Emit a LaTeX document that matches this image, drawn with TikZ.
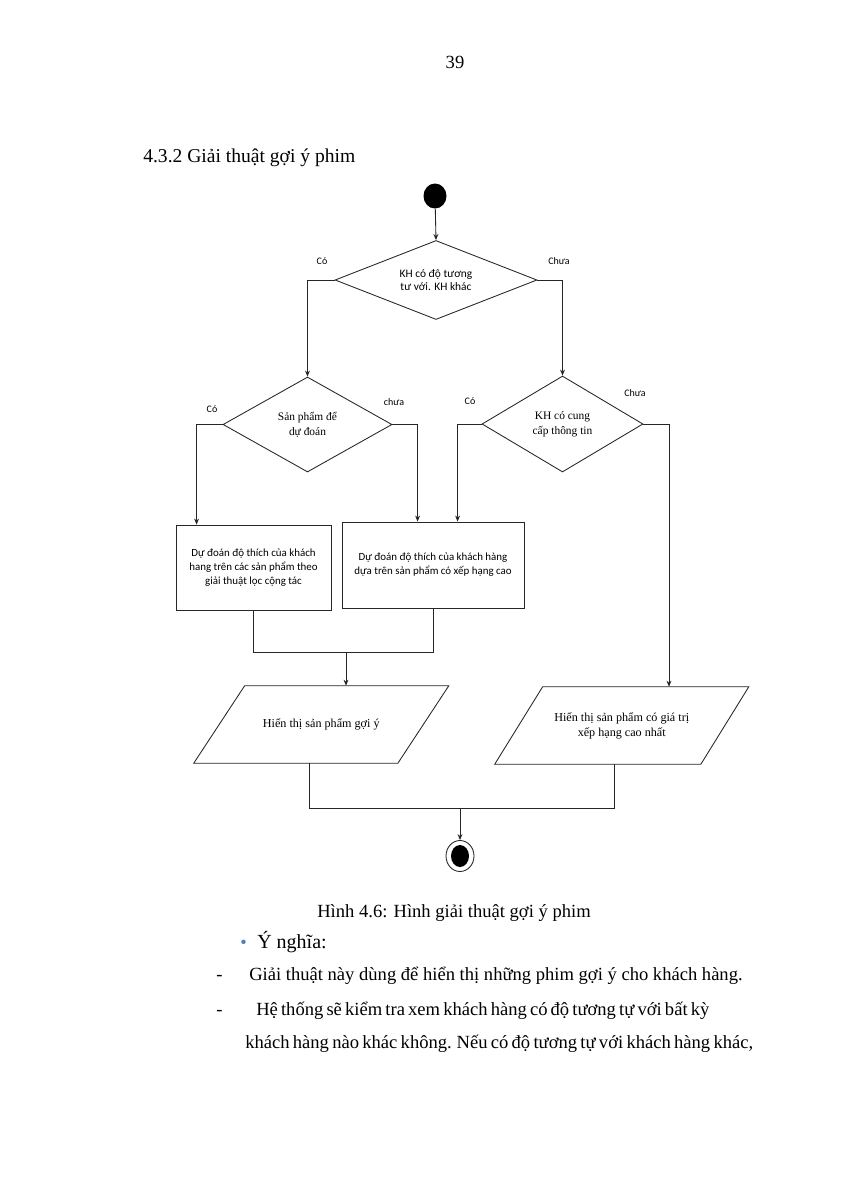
\documentclass[tikz,border=0pt]{standalone}
\usepackage{fontspec}
\setmainfont{Liberation Serif}
\newfontfamily\calfont{Carlito}
\usetikzlibrary{shapes.geometric,arrows.meta,calc}
\definecolor{bulletblue}{HTML}{4F81BD}
\begin{document}
\begin{tikzpicture}[x=0.7pt,y=-0.7pt,
  line/.style={draw=black!85,line width=0.6pt},
  arr/.style={line,-{Stealth[length=4.2pt,width=3.4pt]}},
  dec/.style={diamond,line,inner sep=0pt,align=center},
  box/.style={rectangle,line,inner sep=0pt,align=center,font=\calfont\fontsize{7.65}{9.8}\selectfont},
  io/.style={rectangle,inner sep=0pt,align=center,font=\fontsize{8.5}{10.5}\selectfont},
  lab/.style={font=\calfont\fontsize{7}{8}\selectfont,inner sep=0pt},
  body/.style={font=\fontsize{13}{15}\selectfont,inner sep=0pt,anchor=base west}
]
\useasboundingbox[fill=white] (0,0) rectangle (849,1200);

% page number and heading
\node[body,anchor=base] (pg) at (455,68) {39};
\node[body,font=\fontsize{13.7}{15}\selectfont] (head) at (143,162) {4.3.2 Giải thuật gợi ý phim};

% start
\node[ellipse,fill=black,minimum width=16.1pt,minimum height=17.5pt,inner sep=0pt] (start) at (435,196) {};

% decisions
\node[dec,aspect=2.56,minimum width=141.4pt,minimum height=55.3pt,font=\calfont\fontsize{8}{9.3}\selectfont] (d1) at (436,280) {KH có độ tương\\tư với. KH khác};
\node[dec,aspect=1.78,minimum width=118.3pt,minimum height=66.5pt,font=\fontsize{8}{10.5}\selectfont] (d2) at (307.5,424.5) {Sản phẩm để\\dự đoán};
\node[dec,aspect=1.68,minimum width=112.7pt,minimum height=67.2pt,font=\fontsize{8}{10.5}\selectfont] (d3) at (562.5,424) {KH có cung\\cấp thông tin};

% process boxes
\node[box,minimum width=108.5pt,minimum height=59.5pt] (b1) at (253.5,567.5) {Dự đoán độ thích của khách\\hang trên các sản phẩm theo\\giải thuật lọc cộng tác};
\node[box,minimum width=127.4pt,minimum height=60.2pt] (b2) at (433,565) {Dự đoán độ thích của khách hàng\\dựa trên sản phẩm có xếp hạng cao};

% outputs (parallelograms drawn round their nodes)
\node[io,minimum width=142.5pt,minimum height=53.9pt] (p1) at (321.25,724.5) {Hiển thị sản phẩm gợi ý};
\draw[line] ($(p1.south west)+(-25.5,0)$) -- ($(p1.north west)+(25.5,0)$) -- ($(p1.north east)+(25.5,0)$) -- ($(p1.south east)+(-25.5,0)$) -- cycle;
\node[io,minimum width=143.9pt,minimum height=53.9pt] (p2) at (621.75,725.5) {Hiển thị sản phẩm có giá trị\\xếp hạng cao nhất};
\draw[line] ($(p2.south west)+(-24,0)$) -- ($(p2.north west)+(24,0)$) -- ($(p2.north east)+(24,0)$) -- ($(p2.south east)+(-24,0)$) -- cycle;

% end
\node[ellipse,line,minimum width=19.6pt,minimum height=21.7pt,inner sep=0pt] (stop) at (460,856) {};
\fill[black] (stop.center) ellipse [x radius=6.3pt, y radius=7.7pt];

% labels
\node[lab] (lc1) at (322,261) {Có};
\node[lab] (lk1) at (559,261) {Chưa};
\node[lab] (lc2) at (212,409) {Có};
\node[lab] (lk2) at (394,402) {chưa};
\node[lab] (lc3) at (470,401) {Có};
\node[lab] (lk3) at (635,393) {Chưa};

% helper coordinates
\coordinate (k3) at (669,424);
\coordinate (j1) at (346,652);
\coordinate (j2) at (460,808);

% connectors
\draw[arr] (start) -- (d1.north);
\draw[arr] (d1.west) -| (d2.north);
\draw[arr] (d1.east) -| (d3.north);
\draw[arr] (d2.west) -| ($(b1.north west)+(21,0)$);
\draw[arr] (d2.east) -| ($(b2.north west)+(76,0)$);
\draw[arr] (d3.west) -| ($(b2.north west)+(116,0)$);
\draw[arr] (d3.east) -- (k3) -- (k3 |- p2.north);
\draw[line] (b1.south) -- (b1.south |- j1) -- (b2.south |- j1) -- (b2.south);
\draw[arr] (j1) -- (j1 |- p1.north);
\draw[line] ([xshift=-8.4pt]p1.south) -- ([xshift=-8.4pt]p1.south |- j2) -- ([xshift=-4.9pt]p2.south |- j2) -- ([xshift=-4.9pt]p2.south);
\draw[arr] (j2) -- (stop.north);

% caption and body text
\node[body,anchor=base] (cap) at (454,917) {Hình 4.6: Hình giải thuật gợi ý phim};
\node[body,text=bulletblue] (bul) at (240,948) {•};
\node[body,font=\fontsize{14}{15}\selectfont] (yn) at (257,948) {Ý nghĩa:};
\node[body] (da) at (216,980) {-};
\node[body] (l1) at (249,980) {Giải thuật này dùng để hiển thị những phim gợi ý cho khách hàng.};
\node[body] (db) at (216,1015) {-};
\node[body] (l2) at (256,1015) {\spaceskip=2.2pt Hệ thống sẽ kiểm tra xem khách hàng có độ tương tự với bất kỳ};
\node[body] (l3) at (245,1048) {\spaceskip=2.3pt khách hàng nào khác không. Nếu có độ tương tự với khách hàng khác,};
\end{tikzpicture}
\end{document}
